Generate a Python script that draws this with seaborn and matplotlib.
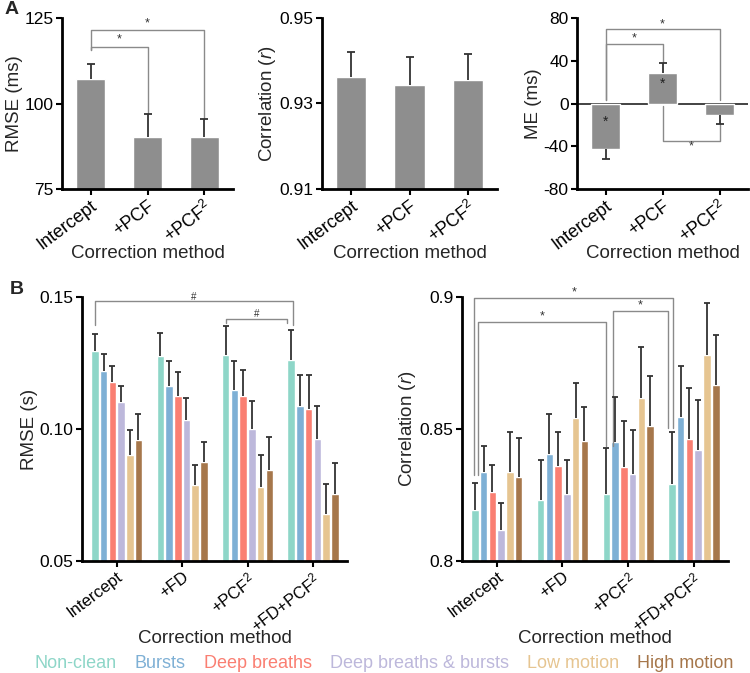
import numpy as np
import pandas as pd
import matplotlib
matplotlib.use("Agg")
import matplotlib.pyplot as plt
from matplotlib.patches import Patch
import seaborn as sns

# ---- data ----
methods_a = ["Intercept", "+PCF", "+PCF$^2$"]
rmse_a = [107.2, 90.2, 90.2]
rmse_a_err = [4.3, 6.7, 5.4]
corr_a = [0.9362, 0.9344, 0.9354]
corr_a_err = [0.0058, 0.0065, 0.0062]
me_a = [-42.2, 28.7, -10.3]
me_a_err = [9.8, 9.1, 8.5]

methods_b = ["Intercept", "+FD", "+PCF$^2$", "+FD+PCF$^2$"]
conditions = ["Non-clean", "Bursts", "Deep breaths", "Deep breaths & bursts",
              "Low motion", "High motion"]
cond_colors = ["#8ed6c8", "#7eb0d5", "#fa7f72", "#bdb8db", "#e6c591", "#a6774b"]

# rows = methods, columns = conditions
rmse_b = [[0.1297, 0.1221, 0.1179, 0.1101, 0.0903, 0.0960],
          [0.1276, 0.1164, 0.1126, 0.1035, 0.0786, 0.0876],
          [0.1279, 0.1149, 0.1124, 0.1001, 0.0781, 0.0845],
          [0.1262, 0.1089, 0.1077, 0.0962, 0.0679, 0.0755]]
rmse_b_err = [[0.0063, 0.0063, 0.0058, 0.0061, 0.0094, 0.0095],
              [0.0088, 0.0093, 0.0089, 0.0084, 0.0076, 0.0076],
              [0.0111, 0.0110, 0.0099, 0.0104, 0.0122, 0.0123],
              [0.0114, 0.0117, 0.0126, 0.0127, 0.0113, 0.0115]]
corr_b = [[0.8195, 0.8338, 0.8262, 0.8118, 0.8338, 0.8319],
          [0.8230, 0.8406, 0.8360, 0.8252, 0.8542, 0.8455],
          [0.8252, 0.8450, 0.8355, 0.8328, 0.8618, 0.8513],
          [0.8290, 0.8547, 0.8462, 0.8420, 0.8780, 0.8666]]
corr_b_err = [[0.0101, 0.0098, 0.0101, 0.0100, 0.0149, 0.0148],
              [0.0153, 0.0150, 0.0129, 0.0129, 0.0132, 0.0127],
              [0.0175, 0.0171, 0.0177, 0.0170, 0.0192, 0.0188],
              [0.0197, 0.0191, 0.0192, 0.0190, 0.0198, 0.0190]]

# ---- style ----
sns.set_theme(style="ticks")
plt.rcParams["font.family"] = ["Liberation Sans", "DejaVu Sans"]
plt.rcParams["mathtext.fontset"] = "custom"
plt.rcParams["mathtext.rm"] = "Liberation Sans"
plt.rcParams["mathtext.it"] = "Liberation Sans:italic"
plt.rcParams["mathtext.default"] = "regular"

FS = 12.5
GREY = "#8e8e8e"
LINE = "#8a8a8a"
ERR = "#333333"

W, H = 750, 673
fig = plt.figure(figsize=(W / 100, H / 100), dpi=100)


def add_ax(left, right, top, bottom):
    return fig.add_axes([left / W, 1 - bottom / H, (right - left) / W, (bottom - top) / H])


def style_ax(ax, ylabel, xlab_y, xfs):
    sns.despine(ax=ax)
    for s in ["left", "bottom"]:
        ax.spines[s].set_linewidth(2)
        ax.spines[s].set_color("black")
    ax.tick_params(direction="out", length=4, width=1.5, colors="black",
                   labelsize=FS, pad=2)
    ax.tick_params(axis="x", labelsize=xfs)
    ax.set_ylabel(ylabel, fontsize=FS + 1, labelpad=1)
    ax.set_xlabel("Correction method", fontsize=FS + 1, va="center")
    ax.xaxis.set_label_coords(0.5, xlab_y)
    plt.setp(ax.get_xticklabels(), rotation=37, ha="right", rotation_mode="anchor")


def one_sided_err(ax, xs, vals, errs, capw):
    vals = np.asarray(vals, dtype=float)
    errs = np.asarray(errs, dtype=float)
    tips = np.where(vals >= 0, vals + errs, vals - errs)
    ax.vlines(xs, vals, tips, color=ERR, lw=1.3, zorder=3)
    ax.plot(xs, tips, ls="none", marker="_", ms=capw, mew=1.3, color=ERR, zorder=3)


def bracket(ax, x1, x2, y, y1, y2, txt, ty, fs=9):
    ax.plot([x1, x1, x2, x2], [y1, y, y, y2], color=LINE, lw=1, clip_on=False)
    ax.text((x1 + x2) / 2, ty, txt, ha="center", va="center", fontsize=fs, color="#333")


# ---- panel A ----
def panel_a(ax, vals, errs, ylim, yticks, yticklabels, ylabel):
    sns.barplot(x=methods_a, y=vals, color=GREY, width=0.52, ax=ax,
                saturation=1, errorbar=None)
    one_sided_err(ax, np.arange(len(vals)), vals, errs, 6)
    ax.set_xlim(-0.5, 2.5)
    ax.set_ylim(*ylim)
    ax.set_yticks(yticks)
    ax.set_yticklabels(yticklabels)
    style_ax(ax, ylabel, -0.375, 13)


ax1 = add_ax(62, 233, 18, 189)
panel_a(ax1, rmse_a, rmse_a_err, (75, 125), [75, 100, 125], ["75", "100", "125"], "RMSE (ms)")
bracket(ax1, 0, 1, 116.6, 115.6, 97.2, "*", 118.6)
bracket(ax1, 0, 2, 121.5, 115.6, 95.9, "*", 123.3)

ax2 = add_ax(322, 497, 18, 189)
panel_a(ax2, corr_a, corr_a_err, (0.91, 0.95), [0.91, 0.93, 0.95],
        ["0.91", "0.93", "0.95"], "Correlation ($\\mathit{r}$)")

ax3 = add_ax(577, 748, 18, 189)
panel_a(ax3, me_a, me_a_err, (-80, 80), [-80, -40, 0, 40, 80],
        ["-80", "-40", "0", "40", "80"], "ME (ms)")
ax3.axhline(0, color="#222", lw=1.2, zorder=0.5)
bracket(ax3, 0, 1, 56, 3, 38.5, "*", 60.5)
bracket(ax3, 0, 2, 69.7, 3, 3, "*", 74)
bracket(ax3, 1, 2, -35.3, -2.5, -19.5, "*", -40.5)
ax3.text(0, -17, "*", ha="center", va="center", fontsize=10, color="#222")
ax3.text(1, 18, "*", ha="center", va="center", fontsize=10, color="#222")


# ---- panel B ----
def panel_b(ax, vals, errs, ylim, yticks, yticklabels, ylabel):
    df = pd.DataFrame(
        [(m, c, vals[i][j]) for i, m in enumerate(methods_b) for j, c in enumerate(conditions)],
        columns=["method", "condition", "value"])
    sns.barplot(data=df, x="method", y="value", hue="condition", order=methods_b,
                hue_order=conditions, palette=cond_colors, width=0.8, gap=0.14,
                saturation=1, errorbar=None, legend=False, ax=ax)
    centers = np.zeros((len(methods_b), len(conditions)))
    for j, cont in enumerate(ax.containers):
        for i, p in enumerate(cont.patches):
            centers[i, j] = p.get_x() + p.get_width() / 2
    one_sided_err(ax, centers.ravel(), np.ravel(vals), np.ravel(errs), 5)
    ax.set_xlim(-0.53, 3.52)
    ax.set_ylim(*ylim)
    ax.set_yticks(yticks)
    ax.set_yticklabels(yticklabels)
    style_ax(ax, ylabel, -0.295, 12)
    return centers


ax4 = add_ax(82, 347, 297, 561)
c4 = panel_b(ax4, rmse_b, rmse_b_err, (0.05, 0.15), [0.05, 0.10, 0.15],
             ["0.05", "0.10", "0.15"], "RMSE (s)")
bracket(ax4, c4[0, 0], c4[3, 0] + 0.03, 0.1483, 0.1395, 0.1395, "#", 0.1500, fs=7)
bracket(ax4, c4[2, 0], c4[3, 0] - 0.06, 0.1418, 0.1402, 0.1402, "#", 0.1436, fs=7)

ax5 = add_ax(462, 728, 297, 561)
c5 = panel_b(ax5, corr_b, corr_b_err, (0.8, 0.9), [0.8, 0.85, 0.9],
             ["0.8", "0.85", "0.9"], "Correlation ($\\mathit{r}$)")
bracket(ax5, c5[0, 0] - 0.01, c5[3, 0] + 0.02, 0.8998, 0.8326, 0.8505, "*", 0.9018)
bracket(ax5, c5[0, 0] + 0.05, c5[2, 0], 0.8905, 0.8326, 0.8435, "*", 0.8925)
bracket(ax5, c5[2, 0] + 0.1, c5[3, 0] - 0.06, 0.8947, 0.8435, 0.8505, "*", 0.8967)

# legend as coloured text
handles = [Patch(color=c, label=l) for c, l in zip(cond_colors, conditions)]
leg = fig.legend(handles=handles, loc="center", bbox_to_anchor=(0.512, 1 - 663 / H),
                 ncol=6, frameon=False, handlelength=0, handleheight=0,
                 handletextpad=0, columnspacing=1.0, fontsize=13)
for h in leg.legend_handles:
    h.set_visible(False)
for t, c in zip(leg.get_texts(), cond_colors):
    t.set_color(c)

fig.text(5 / W, 1 - 10 / H, "A", fontsize=14, fontweight="bold", va="center")
fig.text(10 / W, 1 - 290 / H, "B", fontsize=14, fontweight="bold", va="center")

fig.savefig("out.png", dpi=100)
